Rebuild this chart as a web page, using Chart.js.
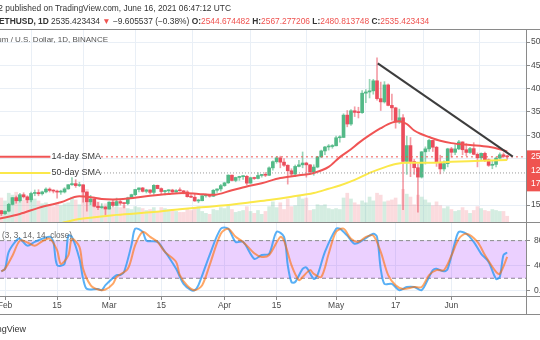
<!DOCTYPE html>
<html>
<head>
<meta charset="utf-8">
<title>ETHUSD 1D</title>
<script src="https://cdn.jsdelivr.net/npm/chart.js@4.4.1/dist/chart.umd.min.js"></script>
<style>
  body { margin: 0; background: #fff; }
  #wrap { position: relative; width: 540px; height: 340px; overflow: hidden; background: #fff;
          font-family: "Liberation Sans", Arial, sans-serif; color: #333; }
  #wrap canvas { position: absolute; left: 0; }
  .txt { position: absolute; white-space: nowrap; font-size: 8.4px; line-height: 10px; }
  .red { color: #ef5350; }
</style>
</head>
<body>
<div id="wrap">
  <canvas id="mainChart" width="540" height="222" style="top:0"></canvas>
  <canvas id="stochChart" width="540" height="118" style="top:222px"></canvas>
  <div class="txt" style="right:309px; top:3px">2 published on TradingView.com, June 16, 2021 06:47:12 UTC</div>
  <div class="txt" style="left:-1px; top:16px"><b>ETHUSD, 1D</b> 2535.423434 <span class="red">▼</span> −9.605537 (−0.38%) <b>O:</b><span class="red">2544.674482</span> <b>H:</b><span class="red">2567.277206</span> <b>L:</b><span class="red">2480.813748</span> <b>C:</b><span class="red">2535.423434</span></div>
  <div class="txt" style="right:432px; top:35px; color:#555; font-size:8px">Ethereum / U.S. Dollar, 1D, BINANCE</div>
  <div class="txt" style="right:468px; top:231px; color:#666; font-size:8.2px">Stoch RSI (3, 3, 14, 14, close)</div>
  <div class="txt" style="right:514px; top:324px; font-size:9px">TradingView</div>
</div>
<script>
// time axis: day 0 = 1 Feb 2021
const tickDays = [0, 14, 28, 42, 59, 73, 89, 105, 120];
const tickLabels = ["Feb", "15", "Mar", "15", "Apr", "15", "May", "17", "Jun"];
const priceTicks = [1500, 2000, 2500, 3000, 3500, 4000, 4500, 5000];
const stochTicks = [0, 40, 80];
const stochBands = [80, 20];

// daily candles, first one is 31 Jan (day -1)
const firstDay = -1;
const opens = [1380,1314,1369,1515,1660,1593,1722,1677,1613,1750,1769,1743,1783,1843,1814,1800,1779,1781,1848,1937,
  1960,1919,1935,1781,1570,1626,1475,1446,1459,1416,1564,1492,1575,1541,1533,1655,1724,1834,1868,1795,
  1826,1773,1924,1854,1791,1806,1823,1782,1811,1806,1782,1681,1669,1589,1594,1700,1716,1690,1818,1846,
  1918,1977,2143,2029,2093,2110,2118,1971,2088,2071,2135,2157,2140,2299,2432,2514,2422,2355,2237,2166,
  2330,2364,2403,2364,2211,2316,2534,2662,2747,2757,2773,2945,2952,3431,3240,3524,3490,3484,3902,3928,
  3952,4168,3785,3715,4079,3640,3587,3282,3374,2438,2777,2435,2302,2101,2643,2707,2888,2742,2411,2276,
  2390,2707,2633,2706,2855,2688,2630,2712,2590,2515,2610,2471,2353,2373,2509,2580,2544.67];
const highs = [1385,1377,1540,1664,1695,1750,1765,1700,1780,1825,1830,1800,1870,1870,1830,1820,1820,1875,1940,2090,
  2045,1990,1940,1782,1710,1670,1560,1530,1470,1570,1600,1650,1620,1545,1670,1735,1840,1870,1880,1840,
  1830,1940,1930,1870,1815,1830,1840,1835,1870,1815,1810,1725,1740,1625,1705,1735,1730,1835,1850,1945,
  1990,2150,2145,2100,2120,2130,2135,2100,2100,2200,2160,2200,2320,2450,2540,2550,2500,2365,2280,2360,
  2460,2640,2420,2370,2365,2545,2680,2760,2800,2800,2980,2990,3460,3530,3550,3610,3600,3960,3980,4200,
  4200,4660,4140,4150,4100,3880,3600,3560,3440,2980,2950,2480,2380,2650,2750,2910,2890,2760,2570,2450,
  2720,2740,2800,2890,2860,2820,2740,2840,2620,2620,2640,2490,2450,2530,2620,2620,2567.28];
const lows = [1274,1300,1354,1502,1540,1565,1650,1550,1570,1700,1700,1715,1760,1780,1760,1650,1730,1760,1840,1920,
  1880,1895,1560,1370,1510,1460,1400,1430,1295,1410,1460,1485,1500,1440,1505,1640,1700,1780,1780,1760,
  1740,1730,1850,1730,1720,1730,1770,1770,1800,1740,1670,1660,1580,1550,1590,1670,1670,1680,1770,1800,
  1900,1965,2020,2000,2030,2050,1930,1965,2050,2060,2100,2110,2130,2250,2400,2300,2330,1950,2130,2110,
  2320,2300,2100,2170,2140,2300,2520,2580,2680,2720,2770,2850,2950,3180,3210,3400,3370,3470,3700,3800,
  3880,3750,3530,3690,3630,3320,3150,3250,1400,2160,2110,2160,1350,2080,2380,2650,2650,2330,2170,2230,
  2320,2530,2580,2690,2580,2560,2610,2580,2320,2450,2430,2330,2280,2320,2490,2520,2480.81];
const closes = [1314,1369,1515,1660,1593,1722,1677,1613,1750,1769,1743,1783,1843,1814,1800,1779,1781,1848,1937,1960,
  1919,1935,1781,1570,1626,1475,1446,1459,1416,1564,1492,1575,1541,1533,1655,1724,1834,1868,1795,1826,
  1773,1924,1854,1791,1806,1823,1782,1811,1806,1782,1681,1669,1589,1594,1700,1716,1690,1818,1846,1918,
  1977,2143,2029,2093,2110,2118,1971,2088,2071,2135,2157,2140,2299,2432,2514,2422,2355,2237,2166,2330,
  2364,2403,2364,2211,2316,2534,2662,2747,2757,2773,2945,2952,3431,3240,3524,3490,3484,3902,3928,3952,
  4168,3785,3715,4079,3640,3587,3282,3374,2438,2777,2435,2302,2101,2643,2707,2888,2742,2411,2276,2390,
  2707,2633,2706,2855,2688,2630,2712,2590,2515,2610,2471,2353,2373,2509,2580,2545,2535.42];
const volumes = [250,220,300,280,310,260,230,250,280,240,220,190,200,180,160,200,170,190,200,260,
  230,180,330,340,250,200,210,150,190,170,150,160,150,170,140,130,160,150,140,120,
  130,150,110,150,140,130,120,110,100,100,130,120,150,160,110,90,80,130,120,150,
  140,170,130,100,110,120,160,110,90,120,80,110,160,210,150,200,130,240,160,170,
  270,240,250,120,130,180,170,180,140,130,140,130,250,300,240,200,180,220,200,260,
  220,300,280,210,220,230,250,180,340,290,260,180,280,260,230,200,170,210,170,140,
  160,130,110,120,150,120,90,120,160,140,120,110,130,120,110,110,60];

// moving averages
const sma14Days = [-2, 4, 9, 15, 20, 23, 26, 29, 33, 39, 44, 48, 52, 56, 61, 65, 69, 74, 79, 83, 87, 90, 93, 95, 98, 101, 104, 106, 108, 110, 112, 114, 117, 120, 125, 130, 133, 135];
const sma14 = [1200, 1310, 1440, 1560, 1690, 1670, 1630, 1620, 1640, 1700, 1740, 1760, 1740, 1720, 1820, 1900, 1970, 2080, 2140, 2190, 2320, 2530, 2700, 2830, 3000, 3150, 3270, 3300, 3240, 3100, 3020, 2960, 2880, 2830, 2790, 2750, 2700, 2650];
const sma50Days = [12, 16, 20, 30, 40, 47, 54, 60, 66, 71, 77, 83, 87, 90, 94, 98, 102, 105, 108, 114, 120, 128, 135];
const sma50 = [1040, 1130, 1200, 1290, 1350, 1410, 1460, 1500, 1560, 1610, 1680, 1760, 1850, 1920, 2040, 2190, 2310, 2380, 2410, 2410, 2430, 2450, 2470];

// Stoch RSI %K and %D
const stochKDays = [-1,0,1,3,4,6,8,12,13,14,16,17,18,20,21,22,25,26,27,30,31,32,34,35,37,38,41,43,44,46,48,50,51,52,55,58,60,62,64,67,
  69,71,73,75,76,77,78,80,81,83,84,86,89,90,92,94,96,99,100,101,102,104,106,108,110,112,114,115,116,118,119,121,122,124,126,128,130,132,133,134,135];
const stochK = [31,35,62,80,83,72,78,86,78,41,43,88,86,51,19,3,3,1,9,25,25,30,73,99,94,80,78,62,54,35,11,1,1,9,57,99,99,78,78,51,
  57,59,94,86,41,14,14,35,37,19,25,62,99,99,88,75,80,91,86,35,11,11,1,6,6,1,22,33,35,31,35,78,94,91,78,59,46,19,22,57,61];
const stochDDays = [-1,0,2,4,6,8,10,12,14,15,17,18,20,21,23,25,27,29,30,33,35,37,39,41,43,46,47,49,51,53,55,58,60,62,64,67,69,71,74,75,
  77,79,80,82,83,85,87,89,91,93,95,97,99,101,103,105,107,110,112,114,116,118,120,122,124,127,129,132,133,135];
const stochD = [31,35,56,80,77,72,79,83,65,43,56,83,70,35,9,2,2,11,22,35,73,94,86,78,62,46,25,8,1,9,41,91,99,86,78,60,54,57,86,80,
  41,17,22,33,27,22,59,94,99,83,78,86,88,62,25,9,3,6,6,25,33,33,56,83,91,78,57,30,27,54];

// drawings on the price pane
const lastPrice = 2535.42;
const priceTags = ["2535.423434", "12.63K", "17:12:48"];
const hLineLevels = [2535.42, 2190];
const hLineTexts = ["14-day SMA", "50-day SMA"];
const hLineTextDay = 12.2;
const hLineDotStartDay = 25.8;
const trendDays = [100.2, 136.5];
const trendPrices = [4543, 2540];

const xMin = -1.35, xMax = 140.05;
const family = '"Liberation Sans", Arial, sans-serif';
const gridColor = "#e9eff6";
const frameColor = "#8a8a8a";
const upColor = "#53b987", downColor = "#eb4d5c";

Chart.defaults.font.family = family;
Chart.defaults.animation = false;

const days = closes.map((c, i) => firstDay + i);
const isUp = closes.map((c, i) => c >= opens[i]);
const pts = (xs, ys) => xs.map((x, i) => ({ x: x, y: ys[i] }));
const setTicks = (list) => (s) => { s.ticks = list.map(v => ({ value: v })); };

const mainDecor = {
  id: "mainDecor",
  afterDraw(chart) {
    const { ctx, chartArea: a, scales: { x, y } } = chart;
    ctx.save();
    ctx.font = "9px " + family;
    ctx.fillStyle = "#3a3a3a";
    ctx.textBaseline = "middle";
    hLineLevels.forEach((lv, i) => {
      ctx.fillText(hLineTexts[i], x.getPixelForValue(hLineTextDay) + 1, y.getPixelForValue(lv));
    });
    ctx.strokeStyle = frameColor;
    ctx.lineWidth = 1;
    ctx.beginPath();
    ctx.moveTo(0, a.top - 0.5); ctx.lineTo(540, a.top - 0.5);
    ctx.stroke();
    const py = y.getPixelForValue(lastPrice);
    ctx.fillStyle = "#ef5350";
    ctx.fillRect(a.right + 1, py - 6.5, 540 - a.right, 41);
    ctx.fillStyle = "#fff";
    ctx.font = "8.5px " + family;
    priceTags.forEach((t, i) => ctx.fillText(t, a.right + 5, py + i * 13.5));
    ctx.restore();
  }
};

const stochDecor = {
  id: "stochDecor",
  afterDraw(chart) {
    const { ctx, chartArea: a } = chart;
    ctx.save();
    ctx.strokeStyle = frameColor;
    ctx.lineWidth = 1;
    ctx.beginPath();
    ctx.moveTo(0, 0.5); ctx.lineTo(540, 0.5);
    ctx.moveTo(0, a.bottom + 0.5); ctx.lineTo(540, a.bottom + 0.5);
    ctx.moveTo(0, 92.5); ctx.lineTo(540, 92.5);
    ctx.moveTo(a.right + 0.5, 0); ctx.lineTo(a.right + 0.5, 93);
    ctx.stroke();
    ctx.restore();
  }
};

new Chart(document.getElementById("mainChart"), {
  type: "bar",
  data: {
    datasets: [
      {
        type: "line", data: pts(trendDays, trendPrices), borderColor: "#3d3d3d", borderWidth: 2,
        pointRadius: 0, order: 1
      },
      {
        type: "line", data: pts([xMin, hLineTextDay], [hLineLevels[0], hLineLevels[0]]), borderColor: "#f05454",
        borderWidth: 2, pointRadius: 0, order: 2
      },
      {
        type: "line", data: pts([hLineDotStartDay, xMax], [hLineLevels[0], hLineLevels[0]]), borderColor: "#ef5350",
        borderWidth: 1, borderDash: [2, 3], pointRadius: 0, order: 2
      },
      {
        type: "line", data: pts([xMin, hLineTextDay], [hLineLevels[1], hLineLevels[1]]), borderColor: "#fbe84a",
        borderWidth: 2, pointRadius: 0, order: 2
      },
      {
        type: "line", data: pts([hLineDotStartDay, xMax], [hLineLevels[1], hLineLevels[1]]), borderColor: "#9a9a9a",
        borderWidth: 1, borderDash: [1, 2], pointRadius: 0, order: 2
      },
      {
        type: "line", data: pts(sma14Days, sma14), borderColor: "#f05454", borderWidth: 2,
        pointRadius: 0, cubicInterpolationMode: "monotone", order: 3
      },
      {
        type: "line", data: pts(sma50Days, sma50), borderColor: "#fbe84a", borderWidth: 2,
        pointRadius: 0, cubicInterpolationMode: "monotone", order: 4
      },
      {
        data: days.map((d, i) => ({ x: d, y: [opens[i], closes[i]] })),
        backgroundColor: isUp.map(u => u ? upColor : downColor),
        barThickness: 3, minBarLength: 1, grouped: false, order: 5
      },
      {
        data: days.map((d, i) => ({ x: d, y: [lows[i], highs[i]] })),
        backgroundColor: isUp.map(u => u ? "rgba(83,185,135,0.6)" : "rgba(235,77,92,0.55)"),
        barThickness: 1, grouped: false, order: 6
      },
      {
        data: days.map((d, i) => ({ x: d, y: volumes[i] })), yAxisID: "yVol",
        backgroundColor: isUp.map(u => u ? "rgba(83,185,135,0.25)" : "rgba(235,77,92,0.2)"),
        barThickness: 3, grouped: false, order: 10
      }
    ]
  },
  options: {
    responsive: false,
    devicePixelRatio: 1,
    events: [],
    layout: { padding: { top: 30, left: 0, right: 0, bottom: 0 } },
    plugins: { legend: { display: false }, tooltip: { enabled: false } },
    scales: {
      x: {
        type: "linear", min: xMin, max: xMax, offset: false,
        afterBuildTicks: setTicks(tickDays),
        ticks: { display: false },
        grid: { color: gridColor, drawTicks: false },
        border: { display: false },
        afterFit: (s) => { s.height = 0; s.paddingLeft = 0; s.paddingRight = 0; }
      },
      y: {
        position: "right", min: 1137, max: 5258,
        afterBuildTicks: setTicks(priceTicks),
        ticks: { callback: (v) => v.toFixed(6), font: { size: 8.5 }, color: "#4a4a4a", padding: 1 },
        grid: { color: gridColor, tickLength: 4, tickColor: frameColor },
        border: { color: frameColor },
        afterFit: (s) => { s.width = 14; s.paddingTop = 0; s.paddingBottom = 0; }
      },
      yVol: { display: false, min: 0, max: 2000 }
    }
  },
  plugins: [mainDecor]
});

new Chart(document.getElementById("stochChart"), {
  type: "line",
  data: {
    datasets: [
      {
        data: pts([xMin, xMax], [stochBands[0], stochBands[0]]), borderColor: "#8a8a8a", borderWidth: 1,
        borderDash: [4, 3], pointRadius: 0, fill: "+1", backgroundColor: "rgba(153,21,255,0.2)", order: 5
      },
      {
        data: pts([xMin, xMax], [stochBands[1], stochBands[1]]), borderColor: "#8a8a8a", borderWidth: 1,
        borderDash: [4, 3], pointRadius: 0, fill: false, order: 5
      },
      {
        data: pts(stochKDays, stochK), borderColor: "rgba(33,150,243,0.75)", borderWidth: 2,
        pointRadius: 0, tension: 0.3, order: 2
      },
      {
        data: pts(stochDDays, stochD), borderColor: "rgba(255,109,0,0.6)", borderWidth: 2,
        pointRadius: 0, tension: 0.3, order: 1
      }
    ]
  },
  options: {
    responsive: false,
    devicePixelRatio: 1,
    events: [],
    layout: { padding: 0 },
    plugins: { legend: { display: false }, tooltip: { enabled: false } },
    scales: {
      x: {
        type: "linear", min: xMin, max: xMax, offset: false,
        afterBuildTicks: setTicks(tickDays),
        ticks: {
          autoSkip: false, maxRotation: 0, callback: (v, i) => tickLabels[i],
          font: { size: 8.5 }, color: "#4a4a4a", padding: 1
        },
        grid: { color: gridColor, tickLength: 4, tickColor: frameColor },
        border: { color: frameColor },
        afterFit: (s) => { s.height = 44; s.paddingLeft = 0; s.paddingRight = 0; }
      },
      y: {
        position: "right", min: -8.3, max: 109.7,
        afterBuildTicks: setTicks(stochTicks),
        ticks: { callback: (v) => v.toFixed(2), font: { size: 8.5 }, color: "#4a4a4a", padding: 4 },
        grid: { color: gridColor, tickLength: 4, tickColor: frameColor },
        border: { color: frameColor },
        afterFit: (s) => { s.width = 14; s.paddingTop = 0; s.paddingBottom = 0; }
      }
    }
  },
  plugins: [stochDecor]
});
</script>
</body>
</html>
